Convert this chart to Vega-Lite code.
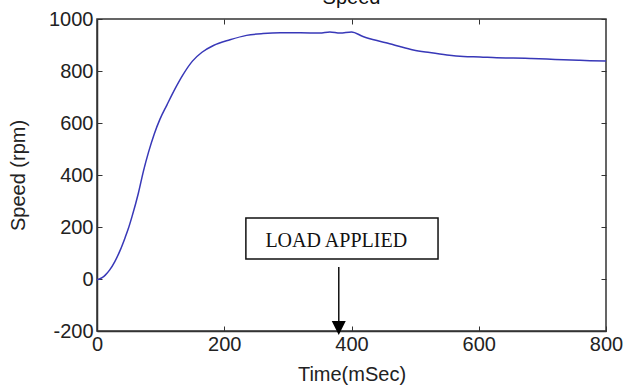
{
  "$schema": "https://vega.github.io/schema/vega-lite/v6.json",
  "width": 509,
  "height": 312,
  "autosize": {"type": "none"},
  "padding": {"left": 97, "top": 19, "right": 26, "bottom": 59},
  "background": "white",
  "title": {"text": "Speed", "fontSize": 20, "font": "Liberation Sans", "fontWeight": "normal", "color": "#111", "baseline": "alphabetic", "offset": 2, "dy": 17, "anchor": "middle"},
  "datasets": {
    "speed": [
      {"t": 0, "rpm": -3}, {"t": 8, "rpm": 5}, {"t": 13, "rpm": 15}, {"t": 20, "rpm": 35},
      {"t": 28, "rpm": 67}, {"t": 36, "rpm": 108}, {"t": 44, "rpm": 158}, {"t": 49, "rpm": 192},
      {"t": 55, "rpm": 240}, {"t": 65, "rpm": 330}, {"t": 73, "rpm": 415}, {"t": 81, "rpm": 488},
      {"t": 90, "rpm": 558}, {"t": 99, "rpm": 615}, {"t": 110, "rpm": 670}, {"t": 123, "rpm": 733},
      {"t": 135, "rpm": 785}, {"t": 150, "rpm": 838}, {"t": 165, "rpm": 872}, {"t": 183, "rpm": 898},
      {"t": 209, "rpm": 920}, {"t": 235, "rpm": 937}, {"t": 261, "rpm": 944}, {"t": 288, "rpm": 947},
      {"t": 320, "rpm": 947}, {"t": 350, "rpm": 946}, {"t": 366, "rpm": 950}, {"t": 382, "rpm": 946},
      {"t": 400, "rpm": 950}, {"t": 418, "rpm": 933}, {"t": 440, "rpm": 917}, {"t": 460, "rpm": 905},
      {"t": 476, "rpm": 894}, {"t": 497, "rpm": 881}, {"t": 523, "rpm": 871}, {"t": 550, "rpm": 862},
      {"t": 576, "rpm": 856}, {"t": 602, "rpm": 854}, {"t": 628, "rpm": 851}, {"t": 654, "rpm": 850},
      {"t": 681, "rpm": 848}, {"t": 707, "rpm": 846}, {"t": 733, "rpm": 843}, {"t": 759, "rpm": 841},
      {"t": 800, "rpm": 838}
    ],
    "note": [
      {"x0": 234, "x1": 536, "y0": 77, "y1": 235, "tx": 376, "ty": 146, "label": "LOAD APPLIED", "ax": 380, "ay0": 46, "ay1": -188}
    ]
  },
  "config": {
    "font": "Liberation Sans",
    "view": {"stroke": "#333", "strokeWidth": 1.5},
    "axis": {
      "grid": false,
      "labelFontSize": 20,
      "labelColor": "#222",
      "labelFont": "Liberation Sans",
      "titleFont": "Liberation Sans",
      "titleFontSize": 20,
      "titleFontWeight": "normal",
      "titleColor": "#222",
      "domainColor": "#333",
      "domainWidth": 1.5,
      "tickColor": "#333",
      "tickWidth": 1,
      "tickSize": -5
    }
  },
  "resolve": {"axis": {"x": "independent", "y": "independent"}},
  "layer": [
    {
      "data": {"name": "speed"},
      "mark": {"type": "line", "color": "#3838b8", "strokeWidth": 1.5, "interpolate": "monotone"},
      "encoding": {
        "x": {"field": "t", "type": "quantitative",
              "scale": {"domain": [0, 800], "nice": false, "zero": false},
              "axis": {"orient": "bottom", "values": [0, 200, 400, 600, 800], "labelExpr": "toString(datum.value)", "title": "Time(mSec)", "labelPadding": 8, "titleBaseline": "alphabetic", "titleY": 49, "labelFlush": false}},
        "y": {"field": "rpm", "type": "quantitative",
              "scale": {"domain": [-200, 1000], "nice": false, "zero": false},
              "axis": {"orient": "left", "values": [-200, 0, 200, 400, 600, 800, 1000], "labelExpr": "toString(datum.value)", "title": "Speed (rpm)", "labelPadding": 9, "titleX": -79, "titleY": 156, "titleBaseline": "middle", "titleAngle": 270, "labelFlush": false}}
      }
    },
    {
      "data": {"name": "note"},
      "mark": {"type": "rect", "fill": "white", "stroke": "#111", "strokeWidth": 1.5},
      "encoding": {
        "x": {"field": "x0", "type": "quantitative", "scale": {"domain": [0, 800], "nice": false, "zero": false},
              "axis": {"orient": "top", "values": [200, 400, 600], "labels": false, "title": null, "domain": false}},
        "x2": {"field": "x1"},
        "y": {"field": "y0", "type": "quantitative", "scale": {"domain": [-200, 1000], "nice": false, "zero": false},
              "axis": {"orient": "right", "values": [-200, 0, 200, 400, 600, 800, 1000], "labels": false, "title": null, "domain": false}},
        "y2": {"field": "y1"}
      }
    },
    {
      "data": {"name": "note"},
      "mark": {"type": "text", "font": "Liberation Serif", "fontSize": 20, "color": "#111", "baseline": "middle", "align": "center"},
      "encoding": {
        "x": {"field": "tx", "type": "quantitative", "axis": null},
        "y": {"field": "ty", "type": "quantitative", "axis": null},
        "text": {"field": "label"}
      }
    },
    {
      "data": {"name": "note"},
      "mark": {"type": "rule", "color": "#111", "strokeWidth": 1.5},
      "encoding": {
        "x": {"field": "ax", "type": "quantitative", "axis": null},
        "y": {"field": "ay0", "type": "quantitative", "axis": null},
        "y2": {"field": "ay1"}
      }
    },
    {
      "data": {"name": "note"},
      "mark": {"type": "point", "shape": "M-1,-1L1,-1L0,1Z", "filled": true, "color": "#000", "opacity": 1, "size": 196},
      "encoding": {
        "x": {"field": "ax", "type": "quantitative", "axis": null},
        "y": {"field": "ay1", "type": "quantitative", "axis": null}
      }
    }
  ]
}
